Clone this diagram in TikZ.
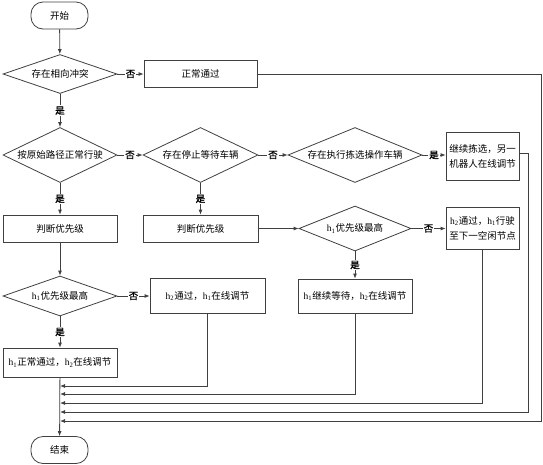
\documentclass[tikz,border=0pt]{standalone}
\usepackage{fontspec}
\setmainfont{Noto Sans CJK SC}
\newfontfamily\cjkb[FakeBold=1.5]{Noto Sans CJK SC}
\newfontfamily\lat{Liberation Serif}
\usetikzlibrary{shapes.geometric,arrows.meta,calc}
\newcommand\hs[1]{{\lat h\textsubscript{#1}}}
\newcommand\zw[1]{\makebox[0pt][c]{#1}}
\definecolor{linec}{HTML}{404040}
\begin{document}
\begin{tikzpicture}[x=1pt,y=-1pt,
  every node/.style={font=\fontsize{9.5}{15}\selectfont, text=black},
  box/.style={draw=linec, rectangle, inner sep=0pt, align=center, line width=0.8pt},
  dia/.style={draw=linec, diamond, inner sep=0pt, line width=0.8pt},
  term/.style={draw=linec, rectangle, rounded corners=12pt, inner sep=0pt, line width=0.8pt, minimum width=57pt, minimum height=27pt},
  arr/.style={draw=linec, line width=0.8pt, -{Latex[length=5pt,width=4pt]}},
  yn/.style={fill=white, inner sep=1pt, font=\fontsize{9.5}{12}\cjkb}]
\useasboundingbox (0,0) rectangle (543,464);
% terminals
\node[term] (start) at (59.5,15.5) {开始};
\node[term] (end) at (59.5,450) {结束};
% diamonds
\node[dia, minimum width=114pt, minimum height=39pt] (d1) at (60,74) {\zw{存在相向冲突}};
\node[dia, minimum width=114pt, minimum height=55pt] (d2) at (60,155) {\zw{按原始路径正常行驶}};
\node[dia, minimum width=115pt, minimum height=55pt] (d3) at (200.5,155) {\zw{存在停止等待车辆}};
\node[dia, minimum width=134pt, minimum height=55pt] (d4) at (355,155) {\zw{存在执行拣选操作车辆}};
\node[dia, minimum width=112pt, minimum height=45pt] (d5) at (355,228.5) {\zw{\hs{1}优先级最高}};
\node[dia, minimum width=114pt, minimum height=40pt] (d6) at (60,296) {\zw{\hs{1}优先级最高}};
% boxes
\node[box, minimum width=113pt, minimum height=27pt] (b1) at (200.5,74) {正常通过};
\node[box, minimum width=73pt, minimum height=48pt] (b2) at (482.5,156) {继续拣选，另一\\机器人在线调节};
\node[box, minimum width=114pt, minimum height=27pt] (b3) at (60,228.5) {判断优先级};
\node[box, minimum width=115pt, minimum height=27pt] (b4) at (200.5,228.5) {判断优先级};
\node[box, minimum width=73pt, minimum height=42pt] (b5) at (482.5,228.5) {\hs{2}通过，\hs{1}行驶\\至下一空闲节点};
\node[box, minimum width=114pt, minimum height=34pt] (b6) at (355,296) {\hs{1}继续等待，\hs{2}在线调节};
\node[box, minimum width=115pt, minimum height=35pt] (b7) at (207.5,296) {\hs{2}通过，\hs{1}在线调节};
\node[box, minimum width=114pt, minimum height=29pt] (b8) at (60,362.5) {\hs{1}正常通过，\hs{2}在线调节};
% join points
\coordinate (j1) at (60,386);
\coordinate (j2) at (60,394);
\coordinate (j3) at (60,403);
\coordinate (j4) at (60,412);
\coordinate (j5) at (60,421);
\coordinate (r1) at (541,74);
\coordinate (r2) at (528,153);
% connectors
\draw[arr] (start) -- (d1);
\draw[arr] (d1) -- node[yn]{否} (b1);
\draw[arr] (d1) -- node[yn]{是} (d2);
\draw[arr] (d2) -- node[yn]{否} (d3);
\draw[arr] (d3) -- node[yn]{否} (d4);
\draw[arr] (d4.east) -- node[yn]{是} (d4.east -| b2.west);
\draw[arr] (d2) -- node[yn]{是} (b3);
\draw[arr] (d3) -- node[yn]{是} (b4);
\draw[arr] (b3) -- (d6);
\draw[arr] (b4) -- (d5);
\draw[arr] (d5) -- node[yn]{否} (b5);
\draw[arr] (d5) -- node[yn]{是} (b6);
\draw[arr] (d6) -- node[yn]{否} (b7);
\draw[arr] (d6) -- node[yn]{是} (b8);
\draw[arr] (b8) -- (end);
\draw[arr] (b7.south) |- (j1);
\draw[arr] (b6.south) |- (j2);
\draw[arr] (b5.south) |- (j3);
\draw[arr] (b2.east |- r2) -- (r2) |- (j4);
\draw[arr] (b1.east) -- (r1) |- (j5);
\end{tikzpicture}
\end{document}
